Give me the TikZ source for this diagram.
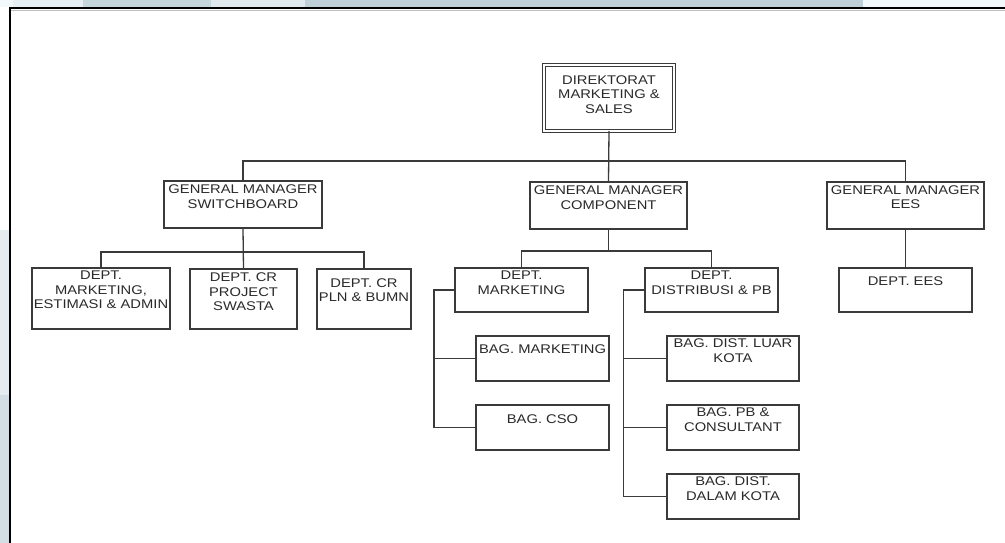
\documentclass[tikz,border=0pt]{standalone}
\usepackage{fontspec}
\setmainfont{Liberation Sans}[FakeStretch=1.17]
\definecolor{linec}{HTML}{3A3A3A}
\definecolor{textc}{HTML}{2A2A2A}
\definecolor{bandA}{HTML}{C6D6DD}
\definecolor{bandB}{HTML}{DFE9EE}
\definecolor{bandC}{HTML}{BFD0D8}
\definecolor{bandD}{HTML}{E6EFF3}
\definecolor{bandE}{HTML}{F3F8FA}
\definecolor{sideA}{HTML}{E4ECF0}
\definecolor{sideB}{HTML}{D2DEE4}
\begin{document}
\begin{tikzpicture}[x=1pt,y=-1pt,
  orgbox/.style={draw=linec, line width=1.3pt, inner sep=0pt, outer sep=0pt, fill=white},
  dirbox/.style={draw=linec, double, double distance=2.2pt, line width=1pt, inner sep=0pt, outer sep=0pt, fill=white},
  conn/.style={draw=linec, line width=1.3pt},
  txt/.style={font=\fontsize{12.6pt}{14.5pt}\selectfont, align=center, inner sep=0pt, text=textc, anchor=north}]
\useasboundingbox (0,0) rectangle (1005,543);
% background
\fill[white] (0,0) rectangle (1005,543);
\fill[bandE] (0,0) rectangle (13,7);
\fill[bandD] (13,0) rectangle (83,7);
\fill[bandA] (83,0) rectangle (211,7);
\fill[bandB] (211,0) rectangle (305,7);
\fill[bandC] (305,0) rectangle (863,7);
\fill[bandE] (863,0) rectangle (1005,7);
\fill[sideA] (0,230) rectangle (9,395);
\fill[sideB] (0,395) rectangle (9,543);
\draw[black!25, line width=0.8pt] (11,10.3) -- (1005,10.3);
\draw[black, line width=2.2pt] (1005,8) -- (10,8) -- (10,543);

% boxes
\node[dirbox, minimum width=129.8pt, minimum height=65.8pt] (dir) at (609,98) {};
\node[orgbox, minimum width=158pt, minimum height=47pt] (gms) at (243,204.5) {};
\node[orgbox, minimum width=157pt, minimum height=47pt] (gmc) at (608.5,205.5) {};
\node[orgbox, minimum width=157pt, minimum height=47pt] (gme) at (905.5,205.5) {};
\node[orgbox, minimum width=133pt, minimum height=44pt] (dee) at (905.5,290) {};
\node[orgbox, minimum width=138pt, minimum height=61pt] (dma) at (101,298.5) {};
\node[orgbox, minimum width=107pt, minimum height=60pt] (dcp) at (243.5,299) {};
\node[orgbox, minimum width=94pt, minimum height=60pt] (dpl) at (364,299) {};
\node[orgbox, minimum width=133pt, minimum height=44pt] (dmk) at (521.5,290) {};
\node[orgbox, minimum width=133pt, minimum height=44pt] (ddi) at (711.5,290) {};
\node[orgbox, minimum width=133pt, minimum height=45pt] (bmk) at (542.5,358.5) {};
\node[orgbox, minimum width=133pt, minimum height=45pt] (bcs) at (542.5,427.5) {};
\node[orgbox, minimum width=132pt, minimum height=45pt] (bdl) at (733,358.5) {};
\node[orgbox, minimum width=132pt, minimum height=45pt] (bpb) at (733,427.5) {};
\node[orgbox, minimum width=132pt, minimum height=45pt] (bdd) at (733,496.5) {};

% texts
\node[txt] (dirt) at ([yshift=-10pt]dir.north) {DIREKTORAT\\MARKETING \&\\SALES};
\node[txt] (gmst) at ([yshift=-4pt]gms.north) {GENERAL MANAGER\\SWITCHBOARD};
\node[txt] (gmct) at ([yshift=-4pt]gmc.north) {GENERAL MANAGER\\COMPONENT};
\node[txt] (gmet) at ([yshift=-3.5pt]gme.north) {GENERAL MANAGER\\EES};
\node[txt] (deet) at ([yshift=-8.7pt]dee.north) {DEPT. EES};
\node[txt] (dmat) at ([yshift=-3pt]dma.north) {DEPT.\\MARKETING,\\ESTIMASI \& ADMIN};
\node[txt] (dcpt) at ([yshift=-3.7pt]dcp.north) {DEPT. CR\\PROJECT\\SWASTA};
\node[txt] (dplt) at ([yshift=-9.3pt]dpl.north) {DEPT. CR\\PLN \& BUMN};
\node[txt] (dmkt) at ([yshift=-3pt]dmk.north) {DEPT.\\MARKETING};
\node[txt] (ddit) at ([yshift=-3pt]ddi.north) {DEPT.\\DISTRIBUSI \& PB};
\node[txt] (bmkt) at ([yshift=-9pt]bmk.north) {BAG. MARKETING};
\node[txt] (bcst) at ([yshift=-9pt]bcs.north) {BAG. CSO};
\node[txt] (bdlt) at ([yshift=-3pt]bdl.north) {BAG. DIST. LUAR\\KOTA};
\node[txt] (bpbt) at ([yshift=-3pt]bpb.north) {BAG. PB \&\\CONSULTANT};
\node[txt] (bddt) at ([yshift=-2.7pt]bdd.north) {BAG. DIST.\\DALAM KOTA};

% connectors
\coordinate (b0) at (608.5,161);
\coordinate (b1) at (243,252);
\coordinate (b2) at (608.5,251);
\coordinate (k1) at (434,290);
\coordinate (k2) at (623.5,290);
\draw[conn] (dir.south) -- (gmc.north);
\draw[conn] (gms.north) |- (b0) -| (gme.north);
\draw[conn] (gms.south) -- (dcp.north);
\draw[conn] (dma.north) |- (b1) -| (dpl.north);
\draw[conn] (gmc.south) -- (b2);
\draw[conn] (dmk.north) |- (b2) -| (ddi.north);
\draw[conn] (gme.south) -- (dee.north);
\draw[conn] (dmk.west) -- (k1) |- (bcs.west);
\draw[conn] (bmk.west) -- (k1 |- bmk.west);
\draw[conn] (ddi.west) -- (k2) |- (bdd.west);
\draw[conn] (bdl.west) -- (k2 |- bdl.west);
\draw[conn] (bpb.west) -- (k2 |- bpb.west);
\end{tikzpicture}
\end{document}
